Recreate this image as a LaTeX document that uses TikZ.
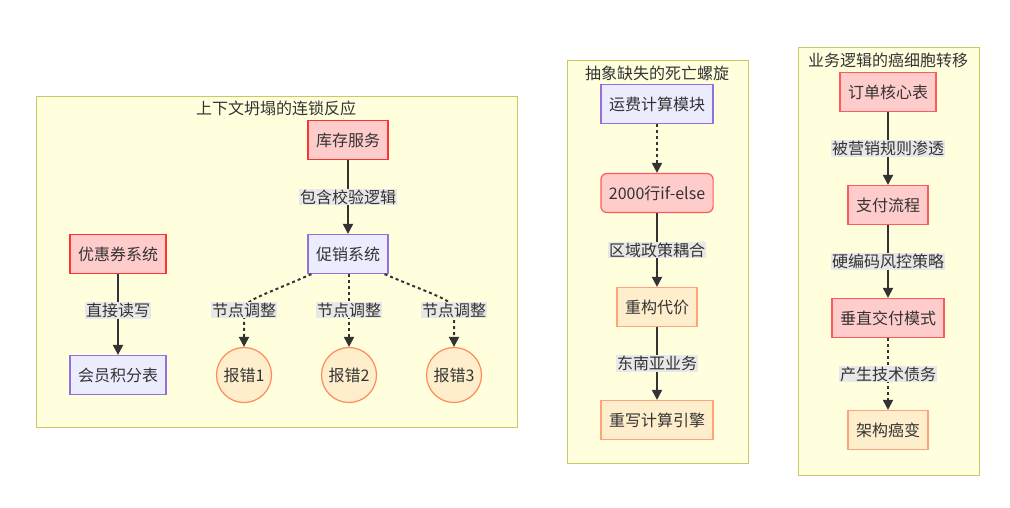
\documentclass[tikz,border=0pt]{standalone}
\usepackage{fontspec}
\setmainfont{Noto Sans CJK SC}
\usetikzlibrary{arrows.meta}
\definecolor{ink}{HTML}{333333}
\definecolor{clfill}{HTML}{FFFFDE}
\definecolor{cldraw}{HTML}{C8C864}
\definecolor{purfill}{HTML}{ECECFF}
\definecolor{purdraw}{HTML}{9370DB}
\definecolor{redfill}{HTML}{FFCCCC}
\definecolor{reddraw}{HTML}{FF3333}
\definecolor{reddrawb}{HTML}{FF5A5A}
\definecolor{orgfill}{HTML}{FFEECC}
\definecolor{orgdraw}{HTML}{FFA47A}
\definecolor{circdraw}{HTML}{FF8A5C}
\definecolor{lblbg}{HTML}{E8E8E8}
\tikzset{
  x=1pt, y=-1pt,
  every node/.style={font=\fontsize{16}{19}\selectfont, text=ink},
  cluster/.style={draw=cldraw, fill=clfill, line width=1pt},
  ctitle/.style={inner sep=0pt},
  boxbase/.style={rectangle, minimum height=39pt, inner xsep=8pt, line width=1.2pt},
  purbox/.style={boxbase, fill=purfill, draw=purdraw},
  redbox/.style={boxbase, fill=redfill, draw=reddraw},
  redboxb/.style={boxbase, fill=redfill, draw=reddrawb},
  redround/.style={redboxb, rounded corners=6pt},
  orgbox/.style={boxbase, fill=orgfill, draw=orgdraw},
  errcirc/.style={circle, minimum size=55pt, inner sep=0pt, fill=orgfill, draw=circdraw, line width=1.2pt},
  lbl/.style={fill=lblbg, inner xsep=1pt, inner ysep=1pt},
  edge/.style={draw=ink, line width=2pt, -{Triangle[length=10pt,width=10pt]}},
  dotedge/.style={edge, dash pattern=on 3pt off 3pt},
}
\begin{document}
\begin{tikzpicture}
\useasboundingbox (0,0) rectangle (1010,507);

% clusters
\draw[cluster] (36,96) rectangle (517,427);
\node[ctitle] (t1) at (276,108) {上下文坍塌的连锁反应};
\draw[cluster] (567,60) rectangle (748,463);
\node[ctitle] (t2) at (657,73) {抽象缺失的死亡螺旋};
\draw[cluster] (798,47) rectangle (979,475);
\node[ctitle] (t3) at (888,60) {业务逻辑的癌细胞转移};

% cluster 1 nodes
\node[redbox] (kc) at (348,140) {库存服务};
\node[purbox] (cx) at (348,254) {促销系统};
\node[redbox] (yh) at (118,254) {优惠券系统};
\node[purbox] (hy) at (118,375) {会员积分表};
\node[errcirc] (e1) at (244,375) {报错1};
\node[errcirc] (e2) at (349,375) {报错2};
\node[errcirc] (e3) at (454,375) {报错3};

% cluster 2 nodes
\node[purbox] (yf) at (657,104) {运费计算模块};
\node[redround] (ie) at (657,193) {2000行if-else};
\node[orgbox] (cg) at (657,307) {重构代价};
\node[orgbox] (cx2) at (657,420) {重写计算引擎};

% cluster 3 nodes
\node[redboxb] (dd) at (888,92) {订单核心表};
\node[redboxb] (zf) at (888,205) {支付流程};
\node[redboxb] (cz) at (888,318) {垂直交付模式};
\node[orgbox] (jg) at (888,430) {架构癌变};

% cluster 1 edges
\draw[edge] (kc) -- node[lbl] {包含校验逻辑} (cx);
\draw[edge] (yh) -- node[lbl, pos=0.45] {直接读写} (hy);
\draw[dotedge] ([xshift=4pt]cx.south west) .. controls (262,296) and (244,300) .. (244,310)
  node[lbl] {节点调整} -- (e1.north);
\draw[dotedge] (cx.south) ++(1,0) -- (349,310) node[lbl] {节点调整} -- (e2.north);
\draw[dotedge] ([xshift=-4pt]cx.south east) .. controls (436,296) and (454,300) .. (454,310)
  node[lbl] {节点调整} -- (e3.north);

% cluster 2 edges
\draw[dotedge] (yf) -- (ie);
\draw[edge] (ie) -- node[lbl] {区域政策耦合} (cg);
\draw[edge] (cg) -- node[lbl] {东南亚业务} (cx2);

% cluster 3 edges
\draw[edge] (dd) -- node[lbl] {被营销规则渗透} (zf);
\draw[edge] (zf) -- node[lbl] {硬编码风控策略} (cz);
\draw[dotedge] (cz) -- node[lbl] {产生技术债务} (jg);
\end{tikzpicture}
\end{document}
